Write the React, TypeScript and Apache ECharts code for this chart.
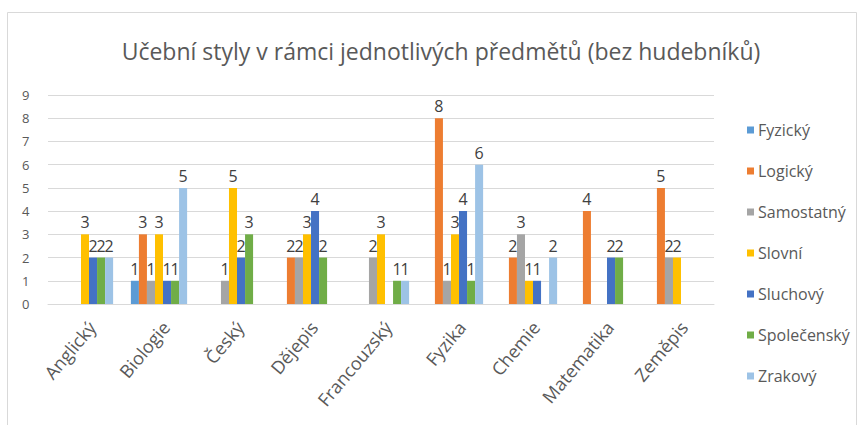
import React, { useEffect, useRef } from "react";
import * as echarts from "echarts";

const categories = ["Anglický", "Biologie", "Český", "Dějepis", "Francouzský", "Fyzika", "Chemie", "Matematika", "Zeměpis"];
const seriesNames = ["Fyzický", "Logický", "Samostatný", "Slovní", "Sluchový", "Společenský", "Zrakový"];
const fyzicky = [null, 1, null, null, null, null, null, null, null];
const logicky = [null, 3, null, 2, null, 8, 2, 4, 5];
const samostatny = [null, 1, 1, 2, 2, 1, 3, null, 2];
const slovni = [3, 3, 5, 3, 3, 3, 1, null, 2];
const sluchovy = [2, 1, 2, 4, null, 4, 1, 2, null];
const spolecensky = [2, 1, 3, 2, 1, 1, null, 2, null];
const zrakovy = [2, 5, null, null, 1, 6, 2, null, null];
const seriesData = [fyzicky, logicky, samostatny, slovni, sluchovy, spolecensky, zrakovy];
const colors = ["#5B9BD5", "#ED7D31", "#A5A5A5", "#FFC000", "#4472C4", "#70AD47", "#9DC3E6"];
const yTicks = [0, 9, 1];

const FONT = "'Open Sans', sans-serif";

export default function App() {
  const ref = useRef<HTMLDivElement>(null);
  useEffect(() => {
    document.body.style.margin = "0";
    const chart = echarts.init(ref.current!, null, { renderer: "svg" });
    chart.setOption({
      animation: false,
      backgroundColor: "#ffffff",
      color: colors,
      title: {
        text: "Učební styly v rámci jednotlivých předmětů (bez hudebníků)",
        left: 436,
        textAlign: "center",
        top: 34,
        textStyle: { fontFamily: FONT, fontSize: 23, fontWeight: "normal", color: "#595959" },
      },
      graphic: [
        {
          type: "rect",
          shape: { x: 7.5, y: 12.5, width: 849, height: 420 },
          style: { fill: "none", stroke: "#d9d9d9", lineWidth: 1 },
          silent: true,
        },
      ],
      legend: {
        orient: "vertical",
        left: 742,
        top: 117,
        itemGap: 25,
        itemWidth: 7,
        itemHeight: 7,
        icon: "rect",
        textStyle: { fontFamily: FONT, fontSize: 16, lineHeight: 16, color: "#595959", padding: [0, 0, 0, -1] },
        data: seriesNames,
      },
      grid: { left: 48, right: 150, top: 95, bottom: 121, containLabel: false },
      xAxis: {
        type: "category",
        data: categories,
        axisTick: { show: false },
        axisLine: { lineStyle: { color: "#d9d9d9" } },
        axisLabel: {
          rotate: 50,
          interval: 0,
          margin: 14,
          verticalAlign: "top",
          fontFamily: FONT,
          fontSize: 18,
          color: "#595959",
        },
      },
      yAxis: {
        type: "value",
        min: yTicks[0],
        max: yTicks[1],
        interval: yTicks[2],
        axisLine: { show: false },
        axisTick: { show: false },
        splitLine: { lineStyle: { color: "#d9d9d9" } },
        axisLabel: { fontFamily: FONT, fontSize: 13, color: "#595959", margin: 26, align: "left" },
      },
      series: seriesNames.map((name, i) => ({
        name,
        type: "bar",
        data: seriesData[i],
        barGap: "0%",
        barCategoryGap: "24%",
        label: {
          show: true,
          position: "top",
          distance: 4,
          fontFamily: FONT,
          fontSize: 16,
          color: "#404040",
        },
      })),
    });
    return () => chart.dispose();
  }, []);
  return <div ref={ref} style={{ width: 864, height: 425 }} />;
}
